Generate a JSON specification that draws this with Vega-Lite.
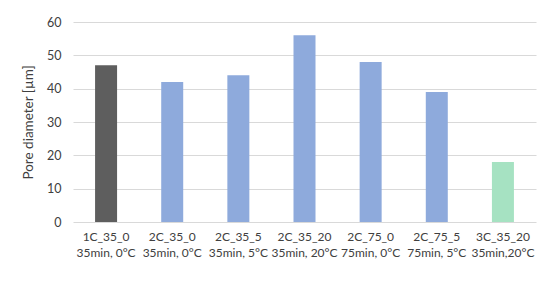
{
  "$schema": "https://vega.github.io/schema/vega-lite/v6.json",
  "width": 463,
  "height": 200,
  "autosize": "none",
  "padding": {"left": 73, "top": 22, "right": 14, "bottom": 61},
  "background": "white",
  "config": {
    "view": {"stroke": null},
    "font": "Lato"
  },
  "data": {
    "values": [
      {"sample": "1C_35_0|35min, 0°C", "diameter": 47, "group": "1C"},
      {"sample": "2C_35_0|35min, 0°C", "diameter": 42, "group": "2C"},
      {"sample": "2C_35_5|35min, 5°C", "diameter": 44, "group": "2C"},
      {"sample": "2C_35_20|35min, 20°C", "diameter": 56, "group": "2C"},
      {"sample": "2C_75_0|75min, 0°C", "diameter": 48, "group": "2C"},
      {"sample": "2C_75_5|75min, 5°C", "diameter": 39, "group": "2C"},
      {"sample": "3C_35_20|35min,20°C", "diameter": 18, "group": "3C"}
    ]
  },
  "mark": {"type": "bar", "width": 22},
  "encoding": {
    "x": {
      "field": "sample",
      "type": "nominal",
      "sort": null,
      "axis": {
        "title": null,
        "labelAngle": 0,
        "labelExpr": "split(datum.label, '|')",
        "labelFont": "Lato",
        "labelFontSize": 12,
        "labelColor": "#404040",
        "labelPadding": 9,
        "labelLineHeight": 16,
        "labelOverlap": false,
        "ticks": false,
        "domain": false,
        "grid": false
      }
    },
    "y": {
      "field": "diameter",
      "type": "quantitative",
      "scale": {"domain": [0, 60]},
      "axis": {
        "title": "Pore diameter [µm]",
        "titleFont": "Lato",
        "titleFontSize": 13.5,
        "titleFontWeight": "normal",
        "titleColor": "#404040",
        "titlePadding": 11,
        "values": [0, 10, 20, 30, 40, 50, 60],
        "labelFont": "Lato",
        "labelFontSize": 12.5,
        "labelColor": "#404040",
        "labelPadding": 12,
        "ticks": false,
        "domain": false,
        "gridColor": "#d9d9d9",
        "gridWidth": 1
      }
    },
    "color": {
      "field": "group",
      "type": "nominal",
      "scale": {"domain": ["1C", "2C", "3C"], "range": ["#5e5e5e", "#8eaadc", "#a6e2c2"]},
      "legend": null
    }
  }
}
